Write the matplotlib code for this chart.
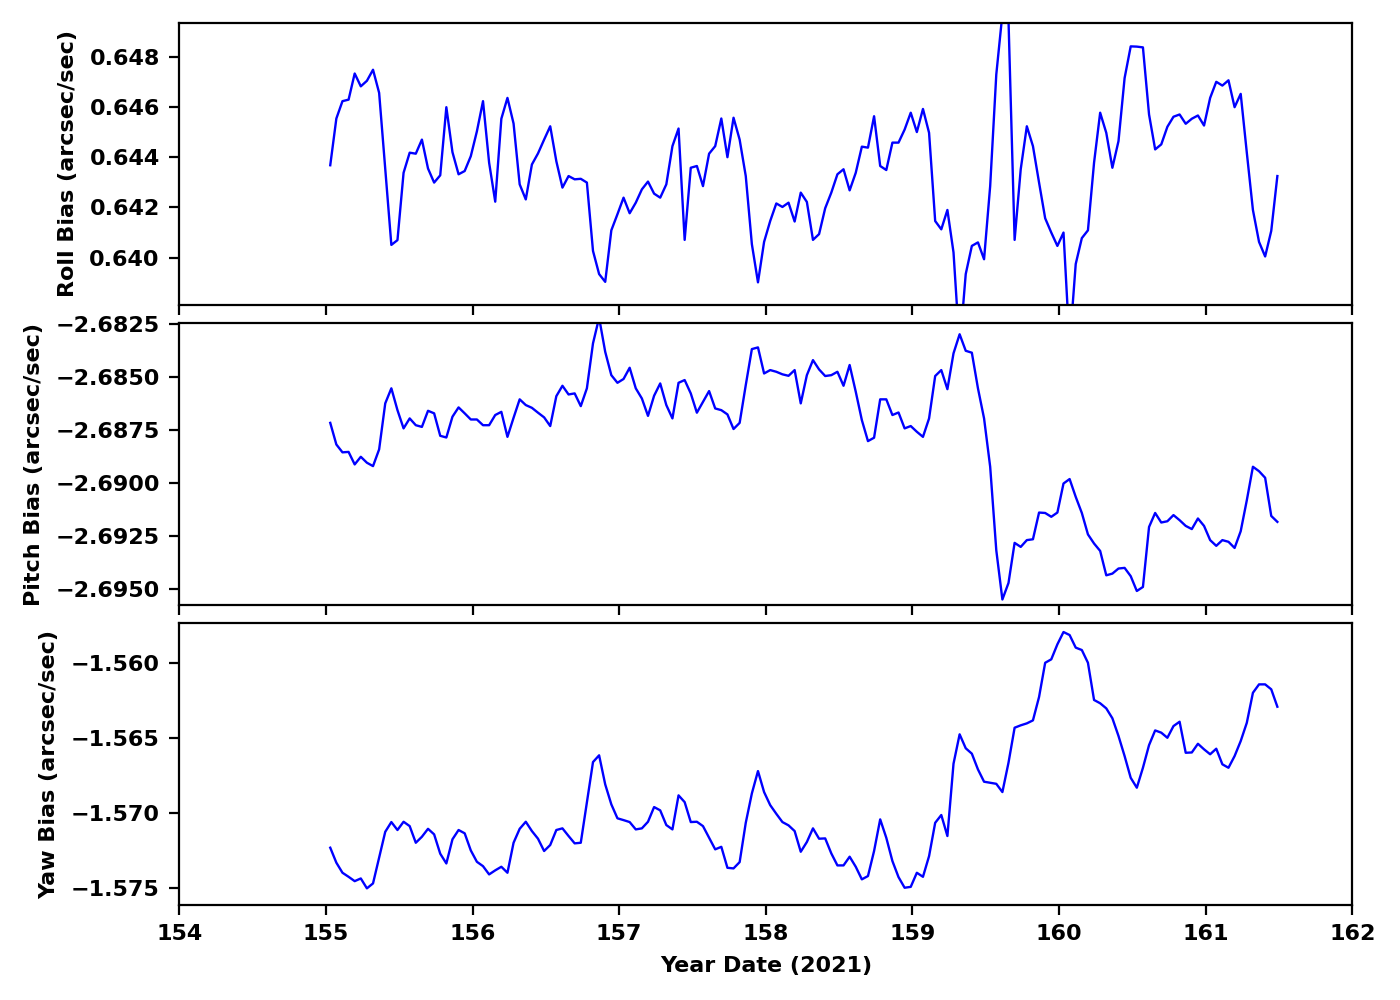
import numpy as np
import matplotlib
matplotlib.use("Agg")
import matplotlib.pyplot as plt

# hourly samples starting at day 155.03 of 2021
start_day = 155.03
n_hours = 156

roll_bias = [
    0.64368, 0.64554, 0.64623, 0.64629, 0.64733, 0.64682, 0.64704, 0.64748, 0.64656, 0.64351,
    0.64051, 0.64070, 0.64338, 0.64418, 0.64414, 0.64470, 0.64355, 0.64299, 0.64328, 0.64599,
    0.64420, 0.64332, 0.64345, 0.64404, 0.64503, 0.64623, 0.64378, 0.64223, 0.64553, 0.64636,
    0.64534, 0.64292, 0.64232, 0.64371, 0.64415, 0.64470, 0.64523, 0.64384, 0.64279, 0.64325,
    0.64312, 0.64314, 0.64299, 0.64027, 0.63935, 0.63904, 0.64109, 0.64173, 0.64239, 0.64177,
    0.64219, 0.64272, 0.64303, 0.64255, 0.64239, 0.64292, 0.64444, 0.64514, 0.64071, 0.64358,
    0.64365, 0.64285, 0.64414, 0.64444, 0.64554, 0.64400, 0.64557, 0.64470, 0.64325, 0.64054,
    0.63902, 0.64063, 0.64146, 0.64216, 0.64202, 0.64219, 0.64144, 0.64259, 0.64222, 0.64071,
    0.64094, 0.64197, 0.64259, 0.64332, 0.64352, 0.64268, 0.64338, 0.64442, 0.64438, 0.64563,
    0.64365, 0.64349, 0.64458, 0.64458, 0.64510, 0.64577, 0.64500, 0.64592, 0.64497, 0.64146,
    0.64113, 0.64190, 0.64021, 0.63640, 0.63935, 0.64047, 0.64061, 0.63994, 0.64285, 0.64729,
    0.64970, 0.64945, 0.64071, 0.64352, 0.64523, 0.64444, 0.64299, 0.64157, 0.64100, 0.64047,
    0.64100, 0.63650, 0.63975, 0.64078, 0.64109, 0.64378, 0.64577, 0.64497, 0.64358, 0.64464,
    0.64715, 0.64841, 0.64840, 0.64837, 0.64570, 0.64431, 0.64451, 0.64521, 0.64561, 0.64570,
    0.64533, 0.64553, 0.64566, 0.64526, 0.64636, 0.64700, 0.64685, 0.64706, 0.64599, 0.64652,
    0.64418, 0.64190, 0.64063, 0.64005, 0.64107, 0.64325,
]

pitch_bias = [
    -2.68716, -2.68818, -2.68855, -2.68853, -2.68912, -2.68876, -2.68904, -2.68920, -2.68841, -2.68624,
    -2.68553, -2.68656, -2.68742, -2.68695, -2.68727, -2.68735, -2.68659, -2.68671, -2.68777, -2.68785,
    -2.68687, -2.68643, -2.68671, -2.68700, -2.68700, -2.68727, -2.68727, -2.68679, -2.68664, -2.68782,
    -2.68692, -2.68605, -2.68632, -2.68645, -2.68668, -2.68690, -2.68731, -2.68590, -2.68541, -2.68582,
    -2.68577, -2.68637, -2.68553, -2.68341, -2.68220, -2.68381, -2.68491, -2.68527, -2.68509, -2.68456,
    -2.68553, -2.68601, -2.68683, -2.68588, -2.68530, -2.68632, -2.68695, -2.68527, -2.68514, -2.68577,
    -2.68668, -2.68617, -2.68566, -2.68648, -2.68656, -2.68676, -2.68745, -2.68716, -2.68538, -2.68368,
    -2.68360, -2.68483, -2.68467, -2.68475, -2.68487, -2.68494, -2.68467, -2.68624, -2.68491, -2.68420,
    -2.68464, -2.68495, -2.68491, -2.68475, -2.68541, -2.68443, -2.68569, -2.68703, -2.68802, -2.68786,
    -2.68605, -2.68605, -2.68679, -2.68667, -2.68742, -2.68731, -2.68758, -2.68782, -2.68695, -2.68495,
    -2.68467, -2.68557, -2.68388, -2.68298, -2.68376, -2.68385, -2.68553, -2.68695, -2.68923, -2.69317,
    -2.69549, -2.69471, -2.69282, -2.69301, -2.69269, -2.69265, -2.69139, -2.69141, -2.69159, -2.69139,
    -2.69002, -2.68981, -2.69065, -2.69141, -2.69242, -2.69285, -2.69320, -2.69435, -2.69427, -2.69403,
    -2.69400, -2.69439, -2.69509, -2.69490, -2.69207, -2.69141, -2.69186, -2.69180, -2.69151, -2.69175,
    -2.69202, -2.69217, -2.69167, -2.69202, -2.69269, -2.69296, -2.69269, -2.69277, -2.69306, -2.69227,
    -2.69081, -2.68923, -2.68944, -2.68975, -2.69155, -2.69183,
]

yaw_bias = [
    -1.57231, -1.57331, -1.57398, -1.57425, -1.57454, -1.57436, -1.57502, -1.57469, -1.57298, -1.57125,
    -1.57060, -1.57113, -1.57058, -1.57087, -1.57198, -1.57158, -1.57105, -1.57142, -1.57271, -1.57336,
    -1.57175, -1.57113, -1.57135, -1.57249, -1.57325, -1.57354, -1.57409, -1.57382, -1.57358, -1.57398,
    -1.57198, -1.57105, -1.57058, -1.57120, -1.57171, -1.57253, -1.57213, -1.57113, -1.57102, -1.57153,
    -1.57202, -1.57198, -1.56927, -1.56660, -1.56615, -1.56809, -1.56942, -1.57035, -1.57047, -1.57060,
    -1.57109, -1.57102, -1.57058, -1.56960, -1.56982, -1.57080, -1.57109, -1.56882, -1.56927, -1.57060,
    -1.57058, -1.57087, -1.57165, -1.57242, -1.57225, -1.57365, -1.57369, -1.57327, -1.57065, -1.56869,
    -1.56720, -1.56860, -1.56947, -1.57005, -1.57060, -1.57082, -1.57120, -1.57258, -1.57193, -1.57102,
    -1.57171, -1.57169, -1.57269, -1.57349, -1.57349, -1.57291, -1.57358, -1.57442, -1.57420, -1.57253,
    -1.57042, -1.57165, -1.57320, -1.57427, -1.57498, -1.57492, -1.57398, -1.57425, -1.57287, -1.57065,
    -1.57013, -1.57153, -1.56671, -1.56475, -1.56568, -1.56604, -1.56709, -1.56791, -1.56798, -1.56805,
    -1.56860, -1.56664, -1.56431, -1.56415, -1.56402, -1.56382, -1.56226, -1.55998, -1.55975, -1.55875,
    -1.55793, -1.55813, -1.55897, -1.55913, -1.55998, -1.56246, -1.56268, -1.56302, -1.56368, -1.56486,
    -1.56620, -1.56765, -1.56831, -1.56698, -1.56547, -1.56449, -1.56464, -1.56498, -1.56420, -1.56391,
    -1.56598, -1.56596, -1.56538, -1.56575, -1.56608, -1.56571, -1.56675, -1.56698, -1.56620, -1.56520,
    -1.56398, -1.56198, -1.56142, -1.56142, -1.56175, -1.56291,
]

labels = ["Roll Bias (arcsec/sec)", "Pitch Bias (arcsec/sec)", "Yaw Bias (arcsec/sec)"]
ylims = [(0.63812, 0.64934), (-2.69575, -2.68245), (-1.57613, -1.55733)]

plt.rcParams['font.weight'] = 'bold'
plt.rcParams['font.size'] = 8

days = start_day + np.arange(n_hours) / 24.0

fig, axes = plt.subplots(3, 1, figsize=(7, 5), dpi=200, sharex=True)
fig.subplots_adjust(left=0.128, right=0.966, top=0.977, bottom=0.095, hspace=0.064)

for ax, series, label, lim in zip(axes, [roll_bias, pitch_bias, yaw_bias], labels, ylims):
    ax.plot(days, series, color='b', lw=0.85)
    ax.set_ylim(lim)
    ax.set_ylabel(label, fontweight='bold')
    ax.ticklabel_format(axis='y', useOffset=False)

axes[2].set_xlim(154, 162)
axes[2].set_xlabel("Year Date (2021)", fontweight='bold')

fig.savefig("out.png")
